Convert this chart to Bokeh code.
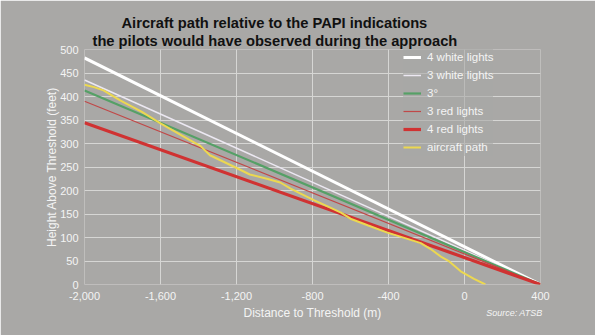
from bokeh.plotting import figure
from bokeh.models import Range1d, FixedTicker, NumeralTickFormatter, Title, Legend, LegendItem
from bokeh.embed import file_html
from bokeh.resources import INLINE

# ---- data ----
papi_x = [-2000, 400]
white4 = [482, 0]
white3 = [435, 0]
deg3 = [413, 0]
red3 = [390, 0]
red4 = [344, 0]

path_x = [-2000, -1950, -1900, -1810, -1700, -1600, -1450, -1390, -1340, -1210,
          -1130, -1040, -970, -915, -860, -790, -715, -650, -600, -510,
          -410, -300, -230, -180, -120, -80, -20, 50, 110]
path_y = [425, 420, 413, 391, 368, 343, 308, 295, 275, 250,
          234, 225, 217, 204, 193, 179, 165, 153, 140, 126,
          111, 97, 88, 76, 58, 49, 28, 12, 0]

x_ticks = [-2000, -1600, -1200, -800, -400, 0, 400]
y_ticks = [0, 50, 100, 150, 200, 250, 300, 350, 400, 450, 500]

series_names = ["4 white lights", "3 white lights", "3\u00b0", "3 red lights", "4 red lights", "aircraft path"]
title_lines = ["Aircraft path relative to the PAPI indications",
               "the pilots would have observed during the approach"]
source_text = "Source: ATSB"

BG = "#a9a8a6"
FONT = "Liberation Sans"
TXT = "#f4f4f4"

p = figure(width=595, height=335, output_backend="svg", toolbar_location=None,
           x_range=Range1d(-2000, 400), y_range=Range1d(0, 500),
           min_border_left=84, min_border_right=55, min_border_top=49, min_border_bottom=51)
p.background_fill_color = BG
p.border_fill_color = BG
p.outline_line_color = None

for ax in (p.xaxis[0], p.yaxis[0]):
    ax.axis_line_color = None
    ax.major_tick_line_color = None
    ax.minor_tick_line_color = None
    ax.major_tick_out = 0
    ax.major_tick_in = 0
    ax.minor_tick_out = 0
    ax.minor_tick_in = 0
    ax.major_label_text_color = TXT
    ax.major_label_text_font = FONT
    ax.major_label_text_font_size = "11px"
    ax.axis_label_text_color = TXT
    ax.axis_label_text_font = FONT
    ax.axis_label_text_font_size = "12px"
    ax.axis_label_text_font_style = "normal"

p.xaxis.ticker = FixedTicker(ticks=x_ticks)
p.yaxis.ticker = FixedTicker(ticks=y_ticks)
p.xaxis.formatter = NumeralTickFormatter(format="0,0")
p.xaxis.axis_label = "Distance to Threshold (m)"
p.yaxis.axis_label = "Height Above Threshold (feet)"
p.xaxis.major_label_standoff = 7
p.yaxis.major_label_standoff = 6
p.xaxis.axis_label_standoff = 3
p.yaxis.axis_label_standoff = -2

p.xgrid.grid_line_color = "#d6d6d4"
p.ygrid.grid_line_color = "#d6d6d4"
p.xgrid.grid_line_width = 1
p.ygrid.grid_line_width = 1

r1 = p.line(papi_x, white4, line_color="#ffffff", line_width=3)
r2 = p.line(papi_x, white3, line_color="#ece8f2", line_width=1.5)
r3 = p.line(papi_x, deg3, line_color="#55a066", line_width=2.2)
r4 = p.line(papi_x, red3, line_color="#c04848", line_width=1.2)
r5 = p.line(papi_x, red4, line_color="#d03232", line_width=3.2)
r6 = p.line(path_x, path_y, line_color="#ecd850", line_width=2)

legend = Legend(items=[LegendItem(label=n, renderers=[r]) for n, r in
                       zip(series_names, [r1, r2, r3, r4, r5, r6])],
                location=(319, 128), orientation="vertical",
                glyph_width=18, glyph_height=18, label_height=18, label_standoff=6,
                spacing=0, padding=5, margin=0,
                background_fill_color=BG, background_fill_alpha=0.6,
                border_line_color=None,
                label_text_color=TXT, label_text_font=FONT, label_text_font_size="11.5px")
p.add_layout(legend)

t2 = Title(text=title_lines[1], align="left", offset=8, standoff=0, vertical_align="middle",
           text_font=FONT, text_font_style="bold", text_font_size="14.7px", text_color="#111111")
t1 = Title(text=title_lines[0], align="left", offset=37, standoff=0, vertical_align="middle",
           text_font=FONT, text_font_style="bold", text_font_size="14.7px", text_color="#111111")
p.add_layout(t2, "above")
p.add_layout(t1, "above")

src = Title(text=source_text, align="right", offset=-2, standoff=-30, vertical_align="top",
            text_font=FONT, text_font_style="italic", text_font_size="9px", text_color=TXT)
p.add_layout(src, "below")

open("out.html", "w").write(file_html(p, INLINE))
